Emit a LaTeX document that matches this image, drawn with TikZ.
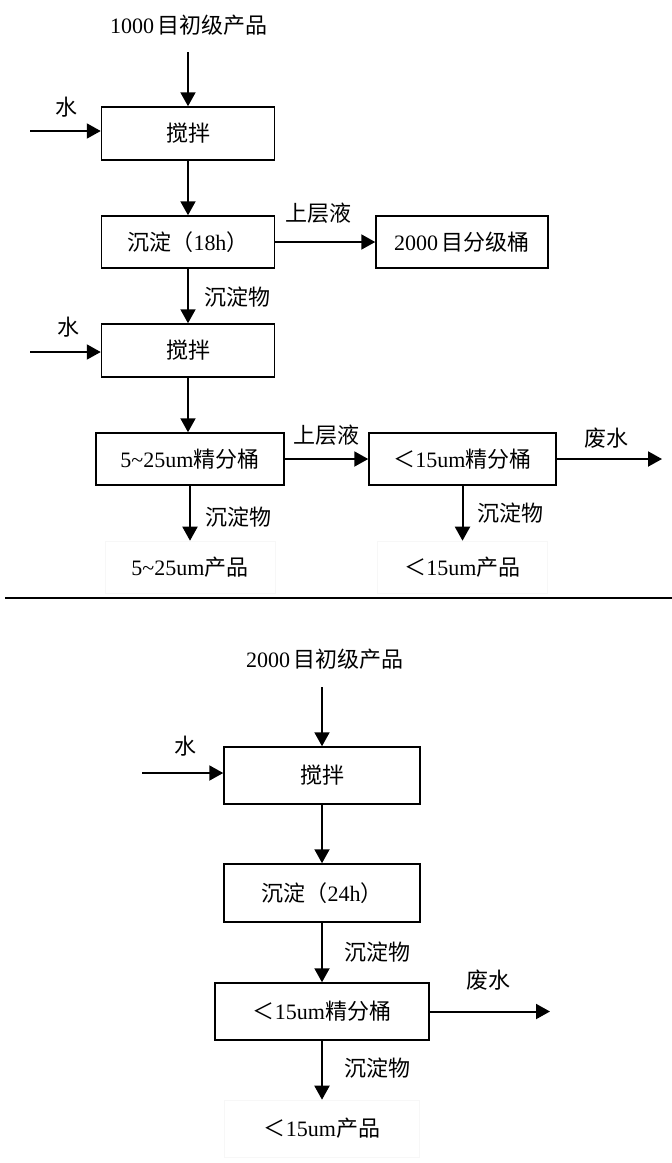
\documentclass[tikz,border=0pt]{standalone}
\usepackage{fontspec}
\setmainfont{Liberation Serif}
\newfontfamily\cjk{Noto Sans CJK SC}
\newcommand{\zh}[1]{{\cjk #1}}
\usetikzlibrary{arrows.meta}
\tikzset{
  box/.style={draw,line width=1.5pt,inner sep=0pt,font=\fontsize{22}{26}\selectfont},
  lbl/.style={inner sep=0pt,font=\fontsize{22}{26}\selectfont},
  prod/.style={draw=black!3,line width=0.6pt,inner sep=0pt,font=\fontsize{22}{26}\selectfont},
  flow/.style={-{Triangle[length=14pt,width=15pt]},line width=2pt},
  sep/.style={line width=2.6pt},
}
\begin{document}
\begin{tikzpicture}[x=1pt,y=-1pt]
  \useasboundingbox (0,0) rectangle (672,1163);
  % stage 1: 1000 mesh feed
  \node[lbl] (feed1) at (189,25) {1000\,\zh{目初级产品}};
  \coordinate (feed1end) at (188,52);
  \node[box,minimum width=173,minimum height=53] (mix1) at (188,133.5) {\zh{搅拌}};
  \node[lbl] (water1) at (67,107) {\zh{水}};
  \coordinate (water1end) at (30,131);
  \node[box,minimum width=173,minimum height=52] (settle1) at (188,242) {\zh{沉淀（}18h\zh{）}};
  \node[box,minimum width=172,minimum height=52] (grade) at (462,242) {2000\,\zh{目分级桶}};
  \node[lbl] (top1) at (318,213) {\zh{上层液}};
  \node[lbl] (sed1) at (237,297) {\zh{沉淀物}};
  % stage 2: second stirring and fine buckets
  \node[box,minimum width=173,minimum height=53] (mix2) at (188,350.5) {\zh{搅拌}};
  \node[lbl] (water2) at (68,327) {\zh{水}};
  \coordinate (water2end) at (30,352);
  \node[box,minimum width=188,minimum height=52] (fineA) at (190,459) {5\textasciitilde25um\zh{精分桶}};
  \node[box,minimum width=187,minimum height=52] (fineB) at (462.5,459) {\zh{＜}15um\zh{精分桶}};
  \node[lbl] (top2) at (326,435) {\zh{上层液}};
  \node[lbl] (waste1) at (606,438) {\zh{废水}};
  \coordinate (waste1end) at (662,459);
  \node[lbl] (sed2) at (238,517) {\zh{沉淀物}};
  \node[lbl] (sed3) at (510,513) {\zh{沉淀物}};
  \node[prod,minimum width=170,minimum height=52] (prodA) at (190,567) {5\textasciitilde25um\zh{产品}};
  \node[prod,minimum width=170,minimum height=52] (prodB) at (462.5,567) {\zh{＜}15um\zh{产品}};
  % arrows, top part
  \draw[flow] (feed1end) -- (feed1end |- mix1.north);
  \draw[flow] (water1end) -- (water1end -| mix1.west);
  \draw[flow] (mix1) -- (settle1);
  \draw[flow] (settle1) -- (grade);
  \draw[flow] (settle1) -- (mix2);
  \draw[flow] (water2end) -- (water2end -| mix2.west);
  \draw[flow] (mix2.south) -- (mix2.south |- fineA.north);
  \draw[flow] (fineA) -- (fineB);
  \draw[flow] (fineB) -- (waste1end);
  \draw[flow] (fineA) -- (prodA);
  \draw[flow] (fineB) -- (prodB);
  % separator
  \draw[sep] (5,598) -- (672,598);
  % stage 3: 2000 mesh feed
  \node[lbl] (feed2) at (325,659) {2000\,\zh{目初级产品}};
  \coordinate (feed2end) at (322,687);
  \node[box,minimum width=196,minimum height=57] (mix3) at (322,775.5) {\zh{搅拌}};
  \node[lbl] (water3) at (185,746) {\zh{水}};
  \coordinate (water3end) at (142,773);
  \node[box,minimum width=196,minimum height=58] (settle2) at (322,893) {\zh{沉淀（}24h\zh{）}};
  \node[lbl] (sed4) at (377,952) {\zh{沉淀物}};
  \node[box,minimum width=214,minimum height=57] (fineC) at (322,1011.5) {\zh{＜}15um\zh{精分桶}};
  \node[lbl] (waste2) at (488,980) {\zh{废水}};
  \coordinate (waste2end) at (550,1011.5);
  \node[lbl] (sed5) at (377,1068) {\zh{沉淀物}};
  \node[prod,minimum width=195,minimum height=57] (prodC) at (322,1128.5) {\zh{＜}15um\zh{产品}};
  % arrows, bottom part
  \draw[flow] (feed2end) -- (feed2end |- mix3.north);
  \draw[flow] (water3end) -- (water3end -| mix3.west);
  \draw[flow] (mix3) -- (settle2);
  \draw[flow] (settle2) -- (fineC);
  \draw[flow] (fineC) -- (waste2end);
  \draw[flow] (fineC) -- (prodC);
\end{tikzpicture}
\end{document}
